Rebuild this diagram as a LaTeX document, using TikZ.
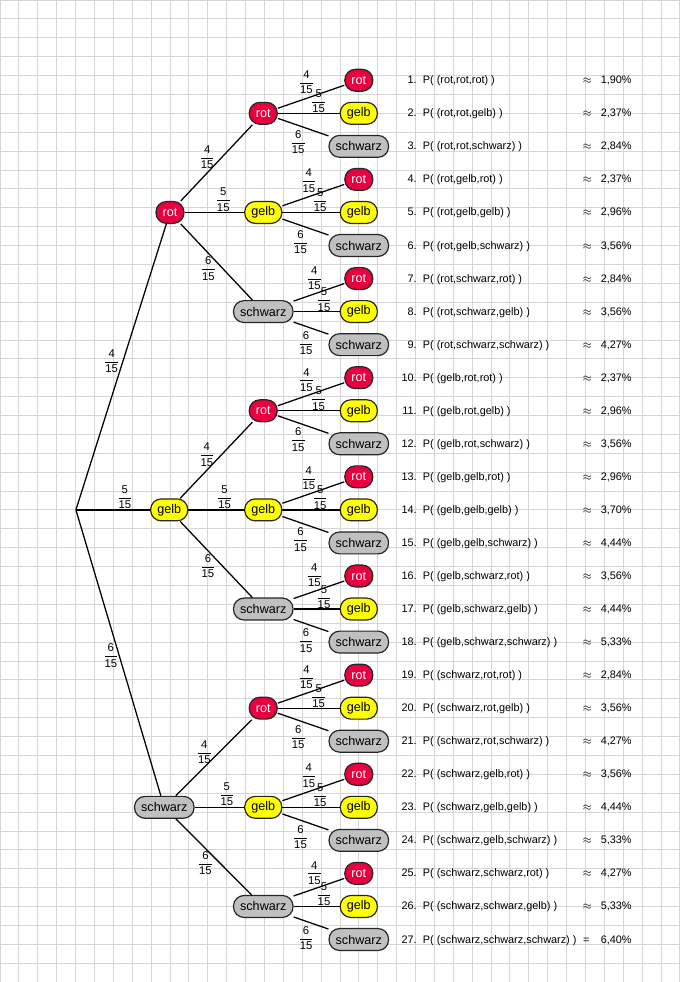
\documentclass[tikz,border=0pt]{standalone}
\usepackage{fontspec}
\usepackage{amsmath}
\setmainfont{Liberation Sans}
\definecolor{rotton}{HTML}{E8003F}
\definecolor{gelbton}{HTML}{FFFF00}
\definecolor{grauton}{HTML}{C0C0C0}
\definecolor{gitter}{HTML}{D6D6D6}
\newcommand{\bruch}[1]{$\genfrac{}{}{0.4pt}{0}{\text{#1}}{\text{15}}$}
\tikzset{
  kugel/.style={draw=black!85,line width=0.9pt,rounded corners=0.28cm,minimum height=0.58cm,inner xsep=5pt,inner ysep=0pt,font=\fontsize{9.5}{10}\selectfont},
  rot/.style={kugel,fill=rotton,text=white},
  gelb/.style={kugel,fill=gelbton},
  schwarz/.style={kugel,fill=grauton},
  ast/.style={line width=0.95pt},
  wk/.style={inner sep=1pt,font=\fontsize{8.5}{9}\selectfont},
  zeile/.style={inner sep=0pt,font=\fontsize{8.2}{10}\selectfont},
  l1rot/.style={midway,xshift=-0.25cm,yshift=0.15cm},
  l1gelb/.style={pos=0.66,yshift=0.34cm},
  l1schwarz/.style={midway,xshift=-0.2cm,yshift=-0.07cm},
  l2rot/.style={midway,xshift=-0.25cm,yshift=0.15cm},
  l2gelb/.style={pos=0.65,yshift=0.34cm},
  l2schwarz/.style={midway,xshift=-0.22cm,yshift=-0.17cm},
  l3rot/.style={midway,xshift=-0.12cm,yshift=0.38cm},
  l3gelb/.style={pos=0.66,yshift=0.32cm},
  l3schwarz/.style={midway,xshift=-0.13cm,yshift=-0.4cm}
}
\begin{document}
\begin{tikzpicture}
\useasboundingbox (0,-26) rectangle (18,0);
\draw[gitter,line width=0.6pt] (0,-26) grid[step=0.5] (18,0);
\coordinate (w) at (2.01,-13.5);
\foreach \a/\za/\dx [count=\i] in {rot/4/0.02,gelb/5/0,schwarz/6/-0.13}{
  \pgfmathsetmacro\ya{-(2.125+0.875*(9*\i-5))}
  \node[\a] (e\i) at (4.48+\dx,\ya) {\a};
  \draw[ast] (w) -- node[wk,l1\a] {\bruch{\za}} (e\i);
  \foreach \b/\zb [count=\j] in {rot/4,gelb/5,schwarz/6}{
    \pgfmathsetmacro\yb{-(2.125+0.875*(9*\i+3*\j-11))}
    \node[\b] (z\i\j) at (6.97,\yb) {\b};
    \draw[ast] (e\i) -- node[wk,l2\b] {\bruch{\zb}} (z\i\j);
    \foreach \c/\zc [count=\k] in {rot/4,gelb/5,schwarz/6}{
      \pgfmathtruncatemacro\n{9*\i+3*\j+\k-12}
      \pgfmathsetmacro\yc{-(2.125+0.875*(\n-1))}
      \node[\c] (b\n) at (9.5,\yc) {\c};
      \draw[ast] (z\i\j) -- node[wk,l3\c] {\bruch{\zc}} (b\n);
      \node[zeile,anchor=mid east] (n\n) at (11.04,\yc) {\n.};
      \node[zeile,anchor=mid west] (t\n) at (11.19,\yc) {P( (\a,\b,\c) )};
    }
  }
}
\foreach \v/\u [count=\n] in {1/90,2/37,2/84,2/37,2/96,3/56,2/84,3/56,4/27,2/37,2/96,3/56,2/96,3/70,4/44,3/56,4/44,5/33,2/84,3/56,4/27,3/56,4/44,5/33,4/27,5/33,6/40}{
  \pgfmathsetmacro\yc{-(2.125+0.875*(\n-1))}
  \ifnum\n<27
    \node[zeile,anchor=mid] (g\n) at (15.55,\yc) {$\approx$};
  \else
    \node[zeile,anchor=mid] (g\n) at (15.52,\yc) {=};
  \fi
  \node[zeile,anchor=mid west] (p\n) at (15.9,\yc) {\v,\u\%};
}
\end{tikzpicture}
\end{document}
